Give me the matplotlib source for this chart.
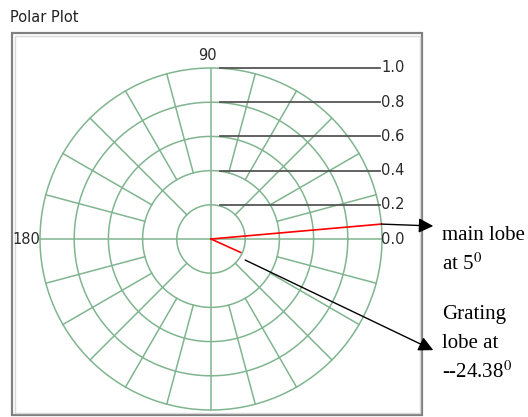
import numpy as np
import matplotlib.pyplot as plt
from matplotlib.patches import Rectangle

# values
lobe_names = ['main lobe', 'grating lobe']
lobe_angles = [5.0, -24.38]      # degrees
lobe_levels = [1.0, 0.19]
ring_levels = [0.2, 0.4, 0.6, 0.8, 1.0]
ring_labels = ['0.2', '0.4', '0.6', '0.8', '1.0']
angle_labels = ['90', '180']

grid_col = '#80b58f'

# figure is 528x417 px, polar centre at (211, 239) px, outer ring radius 171 px
W, H = 528, 417
CX, CY, R = 211, 239, 171

fig = plt.figure(figsize=(W / 100, H / 100), dpi=100)
ax = fig.add_axes([0, 0, 1, 1])
ax.set_xlim(-CX / R, (W - CX) / R)
ax.set_ylim(-(H - CY) / R, CY / R)
ax.axis('off')

# rings
t = np.linspace(0, 2 * np.pi, 721)
for r in ring_levels:
    ax.plot(r * np.cos(t), r * np.sin(t), color=grid_col, lw=1.1, zorder=1)

# spokes: axes from the centre, diagonals from ring 1, 15 deg spokes from ring 2
spokes = [(a, 0.0) for a in (0, 90, 180, 270)]
spokes += [(a, ring_levels[0]) for a in (45, 135, 225, 315)]
spokes += [(a, ring_levels[1]) for a in range(0, 360, 15) if a % 45]
for a, r0 in spokes:
    th = np.deg2rad(a)
    ax.plot([r0 * np.cos(th), np.cos(th)], [r0 * np.sin(th), np.sin(th)],
            color=grid_col, lw=1.1, zorder=1)

# radial scale: dark lines from the 90 axis across to the labels
for r, lab in zip(ring_levels, ring_labels):
    ax.plot([0.05, 0.99], [r, r], color='#555555', lw=1.3, zorder=2)
    ax.text(0.995, r, lab, ha='left', va='center', fontsize=10.5, color='#2a2a2a')
ax.text(0.995, 0.0, '0.0', ha='left', va='center', fontsize=10.5, color='#2a2a2a')

ax.text(-0.02, 1.075, angle_labels[0], ha='center', va='center', fontsize=10.5, color='#2a2a2a')
ax.text(-1.0, 0.0, angle_labels[1], ha='right', va='center', fontsize=10.5, color='#2a2a2a')

# the lobes
for a, m in zip(lobe_angles, lobe_levels):
    th = np.deg2rad(a)
    ax.plot([0, m * np.cos(th)], [0, m * np.sin(th)], color='red', lw=1.2, zorder=3)

# arrows to the notes
arrow = dict(arrowstyle='-|>', color='black', lw=1.0, mutation_scale=22,
             shrinkA=0, shrinkB=0)
th0 = np.deg2rad(lobe_angles[0])
ax.annotate('', xy=(1.3, 0.076), xytext=(lobe_levels[0] * np.cos(th0), lobe_levels[0] * np.sin(th0)),
            arrowprops=arrow, zorder=4)
ax.annotate('', xy=(1.3, -0.65), xytext=(0.2, -0.123), arrowprops=arrow, zorder=4)

notes = ['main lobe', 'at 5$^0$', 'Grating', 'lobe at', '--24.38$^0$']
note_y = [235, 264, 314, 343, 372]
for s, yp in zip(notes, note_y):
    ax.text((442 - CX) / R, (CY - yp) / R, s, ha='left', va='center', fontsize=15,
            family='Liberation Serif', math_fontfamily='stix', color='black')

# frame round the plot, like the panel in the screenshot (drawn under the axes)
fig.add_artist(Rectangle((12 / W, 2 / H), 410 / W, 382 / H, transform=fig.transFigure,
                         fill=False, edgecolor='#808080', lw=1.6, zorder=-1))
fig.add_artist(Rectangle((14.5 / W, 4.5 / H), 405 / W, 377 / H, transform=fig.transFigure,
                         fill=False, edgecolor='#d8d8d8', lw=1.0, zorder=-1))
fig.text(10 / W, 1 - 17 / H, 'Polar Plot', ha='left', va='center', fontsize=10.5, color='#222222')

fig.savefig('out.png', dpi=100)
